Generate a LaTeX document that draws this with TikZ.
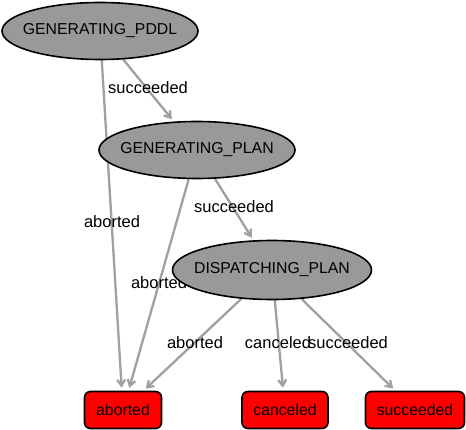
\documentclass[tikz,border=0pt]{standalone}
\usepackage{fontspec}
\setmainfont{Liberation Sans}
\usetikzlibrary{arrows.meta,backgrounds,shapes.geometric}
\definecolor{stategray}{RGB}{153,153,153}
\definecolor{edgegray}{RGB}{160,160,160}
\begin{document}
\begin{tikzpicture}[x=1pt, y=-1pt,
  font=\fontsize{15.8}{18}\selectfont,
  state/.style={ellipse, draw=black, line width=1.6pt, fill=stategray, minimum width=196pt, minimum height=57pt, inner xsep=-9pt, inner ysep=0pt},
  outcome/.style={rectangle, rounded corners=6pt, draw=black, line width=1.6pt, fill=red, minimum height=37pt, inner sep=0pt},
  trans/.style={edgegray, line width=2.3pt, shorten >=3pt, -{Straight Barb[length=6pt,width=8pt]}},
  lbl/.style={inner sep=0pt, font=\fontsize{16.5}{18}\selectfont}]
  \useasboundingbox (0,0) rectangle (466,430);
  \node[state] (pddl) at (100,31) {GENERATING\_PDDL};
  \node[state] (plan) at (197,150) {GENERATING\_PLAN};
  \node[state, minimum width=199pt, minimum height=59pt] (dispatch) at (272,270) {DISPATCHING\_PLAN};
  \node[outcome, minimum width=77pt] (aborted) at (123,410) {aborted};
  \node[outcome, minimum width=86pt] (canceled) at (285,410) {canceled};
  \node[outcome, minimum width=99pt] (succeeded) at (415,410) {succeeded};
  \begin{scope}[on background layer]
    \draw[trans] (pddl) -- (plan);
    \draw[trans] (pddl) -- (aborted);
    \draw[trans] (plan) -- (aborted);
    \draw[trans] (plan) -- (dispatch);
    \draw[trans] (dispatch) -- (aborted);
    \draw[trans] (dispatch) -- (canceled);
    \draw[trans] (dispatch) -- (succeeded);
    \node[lbl] (lPddlSucc) at (148,88) {succeeded};
    \node[lbl] (lPddlAbort) at (112,222) {aborted};
    \node[lbl] (lPlanAbort) at (159,283) {aborted};
    \node[lbl] (lPlanSucc) at (234,207) {succeeded};
    \node[lbl] (lDispAbort) at (195,343) {aborted};
    \node[lbl] (lDispCancel) at (278,343) {canceled};
    \node[lbl] (lDispSucc) at (348,343) {succeeded};
  \end{scope}
\end{tikzpicture}
\end{document}
